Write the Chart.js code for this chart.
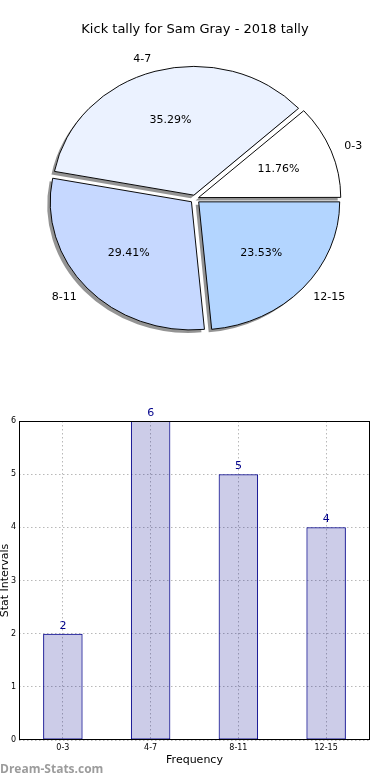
<!DOCTYPE html>
<html><head><meta charset="utf-8">
<script src="https://cdn.jsdelivr.net/npm/chart.js@4"></script>
<style>
html,body{margin:0;padding:0;background:#fff;width:390px;height:780px;overflow:hidden;}
#pie{position:absolute;left:0;top:0;}
#bar{position:absolute;left:0;top:400px;}
#wm{position:absolute;left:0;top:761px;font:bold 12px "Open Sans";color:#9c9c9c;line-height:16px;}
</style></head><body>
<canvas id="pie" width="390" height="390"></canvas>
<canvas id="bar" width="390" height="380"></canvas>
<div id="wm">Dream-Stats.com</div>
<script>
const categories = ['0-3', '4-7', '8-11', '12-15'];
const counts = [2, 6, 5, 4];
const yTicks = [0, 1, 2, 3, 4, 5, 6];
const pieColors = ['#ffffff', '#ebf2ff', '#c6d8ff', '#b3d5ff'];
const chartTitle = 'Kick tally for Sam Gray - 2018 tally';
const xTitle = 'Frequency';
const yTitle = 'Stat Intervals';

const K = 128 / 141;   // vertical squash of the pie
const EXPLODE = 5;     // explode distance in px
const total = counts.reduce((a, b) => a + b, 0);

function squash(ctx, cx, cy) {
  ctx.translate(cx, cy);
  ctx.scale(1, -K);
  ctx.translate(-cx, -cy);
}

const pieTransform = {
  id: 'pieTransform',
  beforeDatasetsDraw(chart) {
    const arcs = chart.getDatasetMeta(0).data;
    const arc = arcs[0];
    const ctx = chart.ctx;
    // shadow pass: all wedges, offset down-left, below every wedge
    ctx.save();
    ctx.translate(-3, 3);
    squash(ctx, arc.x, arc.y);
    arcs.forEach((a) => {
      const o = a.options;
      const bg = o.backgroundColor, bc = o.borderColor, bw = o.borderWidth;
      o.backgroundColor = 'rgba(0,0,0,0.42)';
      o.borderColor = 'rgba(0,0,0,0)';
      o.borderWidth = 0;
      a.draw(ctx);
      o.backgroundColor = bg; o.borderColor = bc; o.borderWidth = bw;
    });
    ctx.restore();
    ctx.save();
    squash(ctx, arc.x, arc.y);
  },
  afterDatasetsDraw(chart) {
    const ctx = chart.ctx;
    ctx.restore();
    const meta = chart.getDatasetMeta(0);
    ctx.save();
    ctx.font = '11px "DejaVu Sans"';
    ctx.fillStyle = '#000';
    ctx.textBaseline = 'middle';
    meta.data.forEach((a, i) => {
      const mid = (a.startAngle + a.endAngle) / 2;
      const c = Math.cos(mid), s = Math.sin(mid);
      const r = a.outerRadius;
      const pt = (d) => [a.x + EXPLODE * c + d * c, a.y - K * (EXPLODE * s + d * s)];
      let [px, py] = pt(0.6 * r);
      ctx.textAlign = 'center';
      ctx.fillText((counts[i] / total * 100).toFixed(2) + '%', px, py);
      [px, py] = pt(1.1 * r);
      ctx.textAlign = c > 0 ? 'left' : 'right';
      ctx.fillText(categories[i], px, py);
    });
    ctx.restore();
  }
};

new Chart(document.getElementById('pie'), {
  type: 'pie',
  data: {
    labels: categories,
    datasets: [{
      data: counts,
      backgroundColor: pieColors,
      borderColor: '#000',
      borderWidth: 1,
      clip: false,
      offset: (ctx) => {
        const circ = counts[ctx.dataIndex] / total * 2 * Math.PI;
        const fix = 1 - Math.sin(Math.min(Math.PI, circ));
        return 4 * EXPLODE / (1 + fix);
      },
      hoverOffset: 0
    }]
  },
  options: {
    responsive: false,
    animation: false,
    rotation: 90,
    radius: 141,
    layout: { padding: { bottom: 30 } },
    plugins: {
      legend: { display: false },
      tooltip: { enabled: false },
      title: {
        display: true,
        text: chartTitle,
        color: '#000',
        font: { family: 'DejaVu Sans', size: 13, weight: 'normal' },
        padding: { top: 22, bottom: 0 }
      }
    }
  },
  plugins: [pieTransform]
});

const barDeco = {
  id: 'barDeco',
  afterDatasetsDraw(chart) {
    const ctx = chart.ctx;
    const ca = chart.chartArea;
    ctx.save();
    ctx.strokeStyle = '#000';
    ctx.lineWidth = 1;
    ctx.strokeRect(Math.round(ca.left) + 0.5, Math.round(ca.top) + 0.5,
      Math.round(ca.right - ca.left) - 1, Math.round(ca.bottom - ca.top) - 1);
    ctx.font = '11px "DejaVu Sans"';
    ctx.fillStyle = '#00008b';
    ctx.textAlign = 'center';
    ctx.textBaseline = 'alphabetic';
    chart.getDatasetMeta(0).data.forEach((b, i) => {
      ctx.fillText(String(counts[i]), b.x, b.y - 5);
    });
    ctx.fillStyle = '#000';
    ctx.textBaseline = 'middle';
    ctx.fillText(xTitle, (ca.left + ca.right) / 2, 360);
    ctx.translate(8, (ca.top + ca.bottom) / 2);
    ctx.rotate(-Math.PI / 2);
    ctx.textBaseline = 'alphabetic';
    ctx.fillText(yTitle, 0, 0);
    ctx.restore();
  }
};

const gridCfg = { offset: false, color: '#b8b8b8', lineWidth: 1, drawTicks: false };
new Chart(document.getElementById('bar'), {
  type: 'bar',
  data: {
    labels: categories,
    datasets: [{
      data: counts,
      backgroundColor: 'rgba(0,0,139,0.2)',
      borderColor: '#00008b',
      borderWidth: 1,
      borderSkipped: false,
      barPercentage: 0.45,
      categoryPercentage: 1
    }]
  },
  options: {
    responsive: false,
    animation: false,
    layout: { padding: { left: 0, right: 20, top: 21, bottom: 9 } },
    plugins: { legend: { display: false }, tooltip: { enabled: false } },
    scales: {
      x: {
        grid: gridCfg,
        border: { display: false, dash: [1.5, 2.5] },
        ticks: { font: { family: 'DejaVu Sans', size: 8 }, color: '#000', padding: 3, maxRotation: 0 },
        afterFit(s) { s.height = 31; }
      },
      y: {
        min: 0, max: 6,
        grid: gridCfg,
        border: { display: false, dash: [1.5, 2.5] },
        ticks: { font: { family: 'DejaVu Sans', size: 8 }, color: '#000', padding: 3 },
        afterBuildTicks(s) { s.ticks = yTicks.map(v => ({ value: v })); },
        afterFit(s) { s.width = 19; }
      }
    }
  },
  plugins: [barDeco]
});
</script>
</body></html>
